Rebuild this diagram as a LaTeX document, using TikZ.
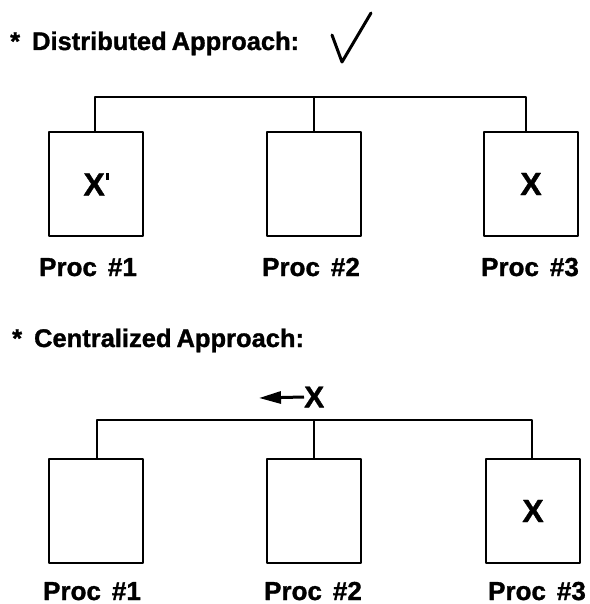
\documentclass[tikz,border=0pt]{standalone}
\usepackage{fontspec}
\setmainfont{Liberation Sans}[WordSpace=1.6,BoldFeatures={FakeBold=1.2}]
\usetikzlibrary{arrows.meta}
\begin{document}
\begin{tikzpicture}[x=1pt,y=-1pt,
  line join=round,
  procbox/.style={draw,line width=2.6pt,minimum width=94pt,minimum height=104pt,inner sep=0pt,
                  font=\fontsize{32}{32}\selectfont\bfseries},
  bus/.style={line width=2.6pt},
  heading/.style={anchor=base west,inner sep=0pt,font=\fontsize{25.5}{25.5}\selectfont\bfseries},
  proclabel/.style={anchor=base,inner sep=0pt,font=\fontsize{26}{26}\selectfont\bfseries},
  tick/.style={line width=3pt,line cap=round}]
\useasboundingbox (0,0) rectangle (589,604);

% ---- distributed approach ----
\node[heading] (h1) at (10,50) {*\hspace{12pt}Distributed\hspace{5pt}Approach:};
\coordinate (c1) at (332,35);
\coordinate (c2) at (342,62);
\coordinate (c3) at (371,13);
\draw[tick] (c1) -- (c2) -- (c3);

\node[procbox] (p1) at (96,184) {X\hspace{1.5pt}\raisebox{16pt}{\rule{2.2pt}{7pt}}\hspace{-3pt}};
\node[procbox] (p2) at (314,184) {};
\node[procbox] (p3) at (531,184) {X};

\coordinate (b1) at (314,97);
\draw[bus] ([xshift=-1pt]p1.north) |- (b1) -| ([xshift=-5pt]p3.north);
\draw[bus] (p2.north) -- (b1);

\node[proclabel] (l1) at (88,276) {Proc\hspace{11pt}\#1};
\node[proclabel] (l2) at (311,276) {Proc\hspace{11pt}\#2};
\node[proclabel] (l3) at (530,276) {Proc\hspace{11pt}\#3};

% ---- centralized approach ----
\node[heading] (h2) at (12,347) {*\hspace{12pt}Centralized\hspace{5pt}Approach:};

\node[anchor=west,inner sep=0pt,font=\fontsize{30}{30}\selectfont\bfseries] (mx) at (304,397) {X};
\coordinate (tip) at (259,398);
\draw[line width=3pt,-{Triangle[length=22pt,width=12pt]}] (mx.west) -- (tip);

\node[procbox] (q1) at (96,511) {};
\node[procbox] (q2) at (314,511) {};
\node[procbox] (q3) at (533,511) {X};

\coordinate (b2) at (314,420);
\draw[bus] ([xshift=1pt]q1.north) |- (b2) -| ([xshift=-1pt]q3.north);
\draw[bus] (q2.north) -- (b2);

\node[proclabel] (m1) at (92,600) {Proc\hspace{11pt}\#1};
\node[proclabel] (m2) at (313,600) {Proc\hspace{11pt}\#2};
\node[proclabel] (m3) at (537,600) {Proc\hspace{11pt}\#3};
\end{tikzpicture}
\end{document}
